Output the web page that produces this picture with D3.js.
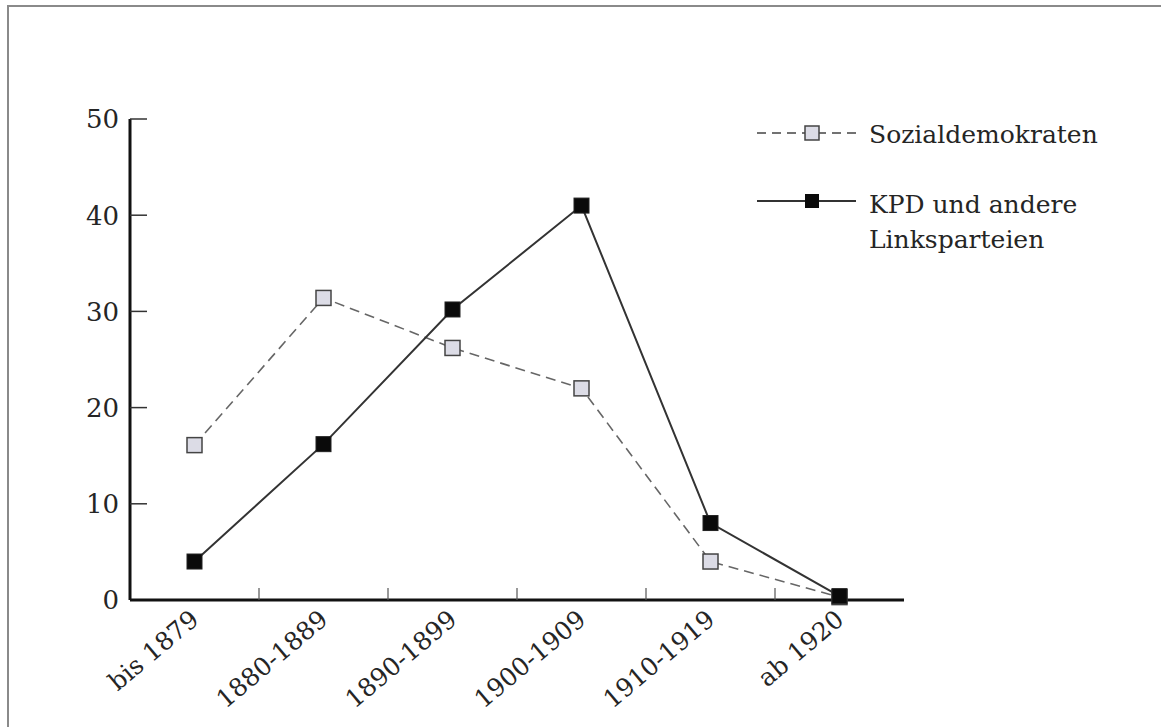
<!DOCTYPE html>
<html>
<head>
<meta charset="utf-8">
<script src="https://cdnjs.cloudflare.com/ajax/libs/d3/7.8.5/d3.min.js"></script>
<style>
  body { margin: 0; background: #fff; }
  text { font-family: "DejaVu Serif", serif; fill: #252525; }
</style>
</head>
<body>
<script>
var categories = ["bis 1879", "1880-1889", "1890-1899", "1900-1909", "1910-1919", "ab 1920"];
var spd = [16.1, 31.4, 26.2, 22.0, 4.0, 0.3];
var kpd = [4.0, 16.2, 30.2, 41.0, 8.0, 0.4];
var yTicks = [0, 10, 20, 30, 40, 50];
var seriesNames = ["Sozialdemokraten", "KPD und andere|Linksparteien"];

var width = 1161,
    height = 727;

var svg = d3.select("body").append("svg")
    .attr("width", width)
    .attr("height", height);

// scan frame
svg.append("path")
    .attr("d", "M8,727 L8,6 L1161,6")
    .attr("fill", "none")
    .attr("stroke", "#8a8a8a")
    .attr("stroke-width", 2);

var x = d3.scaleBand()
    .domain(categories)
    .range([130, 904]);

var y = d3.scaleLinear()
    .domain([0, 50])
    .range([600, 119]);

// y axis
var yAxis = svg.append("g").attr("transform", "translate(130,0)");
yAxis.append("line")
    .attr("y1", y(50)).attr("y2", y(0))
    .attr("stroke", "#111").attr("stroke-width", 3);
yAxis.selectAll(".tick").data(yTicks).enter().append("line")
    .attr("x1", 0).attr("x2", 17)
    .attr("y1", d => y(d)).attr("y2", d => y(d))
    .attr("stroke", "#333").attr("stroke-width", 1.5);
yAxis.selectAll(".lbl").data(yTicks).enter().append("text")
    .attr("x", -11).attr("y", d => y(d))
    .attr("dy", "0.36em")
    .attr("text-anchor", "end")
    .attr("font-size", 26)
    .text(d => d);

// x axis
var xAxis = svg.append("g");
xAxis.append("line")
    .attr("x1", 130).attr("x2", 904)
    .attr("y1", y(0)).attr("y2", y(0))
    .attr("stroke", "#111").attr("stroke-width", 3);
xAxis.selectAll(".tick").data(categories.slice(1)).enter().append("line")
    .attr("x1", d => x(d)).attr("x2", d => x(d))
    .attr("y1", y(0)).attr("y2", y(0) - 12)
    .attr("stroke", "#555").attr("stroke-width", 1.2);
xAxis.selectAll(".lbl").data(categories).enter().append("text")
    .attr("text-anchor", "end")
    .attr("font-size", 25)
    .attr("transform", d => "translate(" + (x(d) + x.bandwidth() / 2 + 6) + "," + (y(0) + 22) + ") rotate(-40)")
    .text(d => d);

var line = d3.line()
    .x((d, i) => x(categories[i]) + x.bandwidth() / 2)
    .y(d => y(d));

// Sozialdemokraten
svg.append("path")
    .datum(spd)
    .attr("d", line)
    .attr("fill", "none")
    .attr("stroke", "#666")
    .attr("stroke-width", 1.6)
    .attr("stroke-dasharray", "10,6");

// KPD
svg.append("path")
    .datum(kpd)
    .attr("d", line)
    .attr("fill", "none")
    .attr("stroke", "#333")
    .attr("stroke-width", 2);

var m = 15;
svg.selectAll(".spd").data(spd).enter().append("rect")
    .attr("x", (d, i) => x(categories[i]) + x.bandwidth() / 2 - m / 2)
    .attr("y", d => y(d) - m / 2)
    .attr("width", m).attr("height", m)
    .attr("fill", "#dcdce6")
    .attr("stroke", "#444").attr("stroke-width", 1.5);

svg.selectAll(".kpd").data(kpd).enter().append("rect")
    .attr("x", (d, i) => x(categories[i]) + x.bandwidth() / 2 - m / 2)
    .attr("y", d => y(d) - m / 2)
    .attr("width", m).attr("height", m)
    .attr("fill", "#0a0a0a")
    .attr("stroke", "#222").attr("stroke-width", 1);

// legend
var lg = svg.append("g");
lg.append("line")
    .attr("x1", 757).attr("x2", 856).attr("y1", 133).attr("y2", 133)
    .attr("stroke", "#444").attr("stroke-width", 1.6)
    .attr("stroke-dasharray", "9,6");
lg.append("rect")
    .attr("x", 805).attr("y", 126).attr("width", 14).attr("height", 14)
    .attr("fill", "#dcdce6").attr("stroke", "#444").attr("stroke-width", 1.5);
lg.append("text")
    .attr("x", 869).attr("y", 143)
    .attr("font-size", 25)
    .text(seriesNames[0]);

lg.append("line")
    .attr("x1", 757).attr("x2", 856).attr("y1", 201).attr("y2", 201)
    .attr("stroke", "#333").attr("stroke-width", 2);
lg.append("rect")
    .attr("x", 805).attr("y", 194).attr("width", 14).attr("height", 14)
    .attr("fill", "#0a0a0a");
var t2 = lg.append("text")
    .attr("x", 869).attr("y", 213)
    .attr("font-size", 25);
seriesNames[1].split("|").forEach(function(s, i) {
    t2.append("tspan").attr("x", 869).attr("dy", i ? 35 : 0).text(s);
});
</script>
</body>
</html>
